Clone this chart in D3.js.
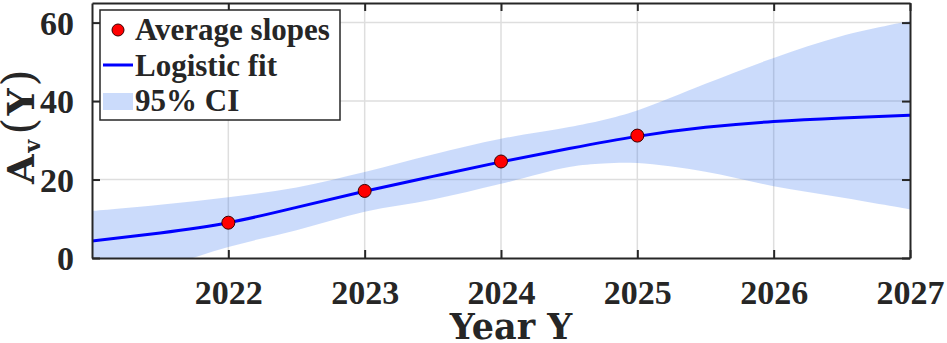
<!DOCTYPE html>
<html>
<head>
<meta charset="utf-8">
<script src="https://cdn.jsdelivr.net/npm/d3@7"></script>
<style>
  body { margin: 0; background: #fff; }
  svg { display: block; }
</style>
</head>
<body>
<script>
// average slopes per year
var years = [2022, 2023, 2024, 2025];
var slopes = [9.0, 17.1, 24.6, 31.2];

// logistic fit
var fitYears = [2021, 2021.5, 2022, 2022.5, 2023, 2023.5, 2024, 2024.5, 2025, 2025.5, 2026, 2026.5, 2027];
var fitVals = [4.3, 6.4, 9.0, 12.9, 17.0, 20.8, 24.5, 27.9, 31.0, 33.3, 34.8, 35.7, 36.4];

// 95% confidence band
var ciYears = [2021, 2021.5, 2022, 2022.5, 2023, 2023.5, 2024, 2024.5, 2024.75, 2025, 2025.5, 2026, 2026.5, 2027];
var ciUpper = [12.0, 13.6, 15.5, 18.0, 21.9, 26.4, 30.4, 33.4, 35.2, 37.6, 44.4, 51.0, 56.6, 60.4];
var ciLower = [-9.0, -2.8, 2.8, 7.1, 11.8, 14.9, 18.9, 23.2, 24.1, 24.2, 22.0, 18.3, 15.4, 12.4];

var xTicks = [2022, 2023, 2024, 2025, 2026, 2027];
var yTicks = [0, 20, 40, 60];

var legendLabels = ["Average slopes", "Logistic fit", "95% CI"];

var W = 947, H = 343;
var margin = {top: 3, right: 37, bottom: 85, left: 92},
    width = W - margin.left - margin.right,
    height = H - margin.top - margin.bottom;

var ink = "#262626";

var x = d3.scaleLinear().domain([2021, 2027]).range([0, width]);
var y = d3.scaleLinear().domain([0, 65]).range([height, 0]);

var svg = d3.select("body").append("svg")
    .attr("width", W)
    .attr("height", H);

var g = svg.append("g")
    .attr("transform", "translate(" + margin.left + "," + margin.top + ")");

g.append("clipPath").attr("id", "clip")
  .append("rect").attr("width", width).attr("height", height);

// grid
var grid = g.append("g").attr("class", "grid");
grid.selectAll("line.vx").data(xTicks.slice(0, -1)).enter().append("line")
    .attr("x1", d => x(d)).attr("x2", d => x(d))
    .attr("y1", 0).attr("y2", height)
    .attr("stroke", "#dedede").attr("stroke-width", 1.5);
grid.selectAll("line.hy").data(yTicks.slice(1)).enter().append("line")
    .attr("x1", 0).attr("x2", width)
    .attr("y1", d => y(d)).attr("y2", d => y(d))
    .attr("stroke", "#dedede").attr("stroke-width", 1.5);

var plot = g.append("g").attr("clip-path", "url(#clip)");

// CI band
var band = ciYears.map((d, i) => ({x: d, lo: ciLower[i], hi: ciUpper[i]}));
plot.append("path")
    .datum(band)
    .attr("fill", "#3070f0")
    .attr("fill-opacity", 0.25)
    .attr("d", d3.area()
        .x(d => x(d.x))
        .y0(d => y(d.lo))
        .y1(d => y(d.hi))
        .curve(d3.curveCatmullRom));

// fit line
var fit = fitYears.map((d, i) => ({x: d, v: fitVals[i]}));
plot.append("path")
    .datum(fit)
    .attr("fill", "none")
    .attr("stroke", "#0000ff")
    .attr("stroke-width", 3)
    .attr("d", d3.line()
        .x(d => x(d.x))
        .y(d => y(d.v))
        .curve(d3.curveNatural));

// data points
g.selectAll("circle.pt").data(years).enter().append("circle")
    .attr("cx", d => x(d))
    .attr("cy", (d, i) => y(slopes[i]))
    .attr("r", 6.5)
    .attr("fill", "#ff0000")
    .attr("stroke", "#3a0000")
    .attr("stroke-width", 1);

// axes: bottom/left with labels, top/right as mirror ticks
var xAxis = d3.axisBottom(x).tickValues(xTicks).tickFormat(d3.format("d"))
    .tickSizeInner(-8).tickSizeOuter(0).tickPadding(22);
var yAxis = d3.axisLeft(y).tickValues(yTicks)
    .tickSizeInner(-8).tickSizeOuter(0).tickPadding(18);

var xa = g.append("g").attr("transform", "translate(0," + height + ")").call(xAxis);
var ya = g.append("g").call(yAxis);
var xt = g.append("g").call(d3.axisTop(x).tickValues(xTicks).tickFormat("").tickSizeInner(-8).tickSizeOuter(0));
var yr = g.append("g").attr("transform", "translate(" + width + ",0)")
    .call(d3.axisRight(y).tickValues(yTicks).tickFormat("").tickSizeInner(-8).tickSizeOuter(0));

[xa, ya, xt, yr].forEach(function(a) {
  a.select(".domain").attr("stroke", ink).attr("stroke-width", 2);
  a.selectAll(".tick line").attr("stroke", ink).attr("stroke-width", 2);
  a.selectAll(".tick text")
    .attr("fill", ink)
    .style("font-family", "'Liberation Serif', serif")
    .style("font-weight", "bold")
    .style("font-size", "34px");
});
xa.selectAll(".tick text").attr("dy", "0.71em");
ya.selectAll(".tick text").attr("dy", "0.34em");

// axis titles
svg.append("text")
    .attr("x", 511)
    .attr("y", 339)
    .attr("text-anchor", "middle")
    .attr("fill", ink)
    .style("font-family", "'DejaVu Serif', serif")
    .style("font-weight", "bold")
    .style("font-size", "35px")
    .text("Year Y");

var yl = svg.append("text")
    .attr("transform", "translate(34,184) rotate(-90)")
    .attr("fill", ink)
    .style("font-family", "'DejaVu Serif', serif")
    .style("font-weight", "bold")
    .style("font-size", "38px");
yl.append("tspan").text("A");
yl.append("tspan").attr("dy", 6).attr("dx", 2).style("font-size", "22px").text("v");
yl.append("tspan").attr("dy", -6).attr("dx", 5).style("font-weight", "normal").style("font-size", "44px").text("(");
yl.append("tspan").attr("dx", 2).text("Y");
yl.append("tspan").attr("dx", 2).style("font-weight", "normal").style("font-size", "44px").text(")");

// legend
var leg = svg.append("g").attr("transform", "translate(100,10)");
leg.append("rect")
    .attr("width", 240).attr("height", 110)
    .attr("fill", "#fff")
    .attr("stroke", ink).attr("stroke-width", 1.5);

leg.append("circle").attr("cx", 18).attr("cy", 20).attr("r", 6)
    .attr("fill", "#ff0000").attr("stroke", "#3a0000").attr("stroke-width", 1);
leg.append("line").attr("x1", 3).attr("x2", 33).attr("y1", 55).attr("y2", 55)
    .attr("stroke", "#0000ff").attr("stroke-width", 3);
leg.append("rect").attr("x", 3).attr("y", 83).attr("width", 30).attr("height", 17)
    .attr("fill", "#3070f0").attr("fill-opacity", 0.25);

leg.selectAll("text").data(legendLabels).enter().append("text")
    .attr("x", 35)
    .attr("y", (d, i) => 30 + i * 35.5)
    .attr("fill", ink)
    .style("font-family", "'Liberation Serif', serif")
    .style("font-weight", "bold")
    .style("font-size", "31px")
    .text(d => d);
</script>
</body>
</html>
